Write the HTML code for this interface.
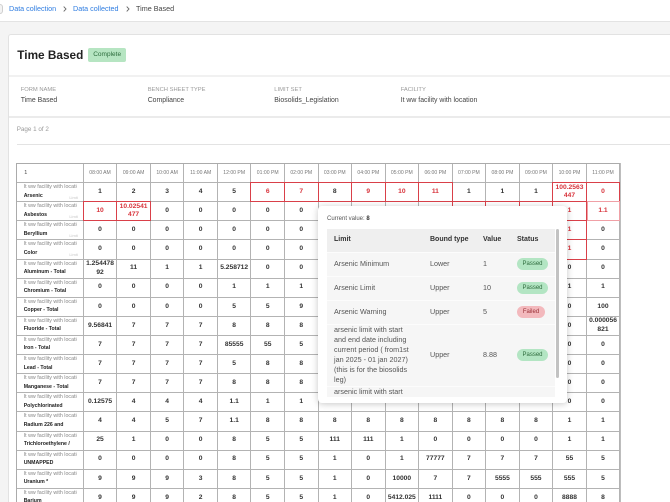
<!DOCTYPE html>
<html><head><meta charset="utf-8">
<style>
*{margin:0;padding:0;box-sizing:border-box}
html,body{width:670px;height:502px;overflow:hidden;background:#f4f4f4;font-family:"Liberation Sans",Arial,sans-serif}
#w{position:relative;width:670px;height:502px;overflow:hidden;background:#f4f4f4}
.top{position:absolute;left:0;top:0;width:670px;height:22px;background:#fff;border-bottom:1px solid #e3e3e3}
.circ{position:absolute;left:0;top:4px;width:3px;height:10px;border:1px solid #cfcfcf;border-left:0;border-radius:0 5px 5px 0;background:#f3f3f3}
.bc{position:absolute;top:3.8px;font-size:7.2px;line-height:9px;white-space:nowrap}
.bl{color:#2f7de1}
.chev{position:absolute;top:5.5px}
.card{position:absolute;left:8px;top:34px;width:662px;height:468px;background:#fff;border:1px solid #e2e2e2;border-right:0;border-bottom:0;border-radius:3px 0 0 0}
.title{position:absolute;left:17.3px;top:48px;font-size:11.8px;line-height:14px;font-weight:bold;color:#222;white-space:nowrap}
.badge{position:absolute;left:88px;top:48.3px;width:38.3px;height:13.7px;line-height:13.7px;text-align:center;background:#b6e5c2;color:#2b6b3b;font-size:6.5px;border-radius:2px}
.sep1{position:absolute;left:9px;top:74.5px;width:661px;height:2px;background:#f1f1f1}
.sep2{position:absolute;left:9px;top:116px;width:661px;height:2px;background:#ebebeb}
.sep3{position:absolute;left:17px;top:143.5px;width:653px;height:1px;background:#e3e3e3}
.lab{position:absolute;top:87.2px;font-size:5.8px;line-height:7px;color:#9a9a9a;white-space:nowrap}
.val{position:absolute;top:95.5px;font-size:6.9px;line-height:9px;color:#444;white-space:nowrap}
.pg{position:absolute;left:16.7px;top:126px;font-size:6.3px;line-height:8px;color:#999}
.gw{position:absolute;left:16.2px;top:163px;width:606px;height:339px;overflow:hidden}
.g{position:absolute;left:0;top:0;display:grid;grid-template-columns:66.6px repeat(16,33.54px);grid-auto-rows:19.12px;border-left:1px solid #ababab;border-top:1px solid #ababab;box-shadow:1px 0 0 #bdbdbd}
.g>span{display:flex;align-items:center;justify-content:center;text-align:center;border-right:1px solid #b3b3b3;border-bottom:1px solid #b3b3b3;font-size:6.7px;font-weight:bold;color:#333;line-height:8.5px;padding:0 2px;word-break:break-all;position:relative;background:#fff}
.g>span.h{font-size:5.1px;font-weight:normal;color:#777}
.g>span.h0{justify-content:flex-start;padding-left:7px;font-size:5.5px;font-weight:normal;color:#444}
.g>span.l{display:block;text-align:left;padding:1px 6px 0 6.5px;overflow:hidden;font-weight:normal}
.l em{display:block;font-style:normal;font-size:5.3px;line-height:6px;color:#888;white-space:nowrap;overflow:hidden}
.l b{display:block;font-size:5.2px;line-height:6px;margin-top:2.5px;color:#222;white-space:nowrap;overflow:hidden}
.l i{position:absolute;right:5px;bottom:1.5px;font-style:normal;font-size:4px;line-height:5px;color:#c6c6c6}
.g>span.r,.g>span.k,.g>span.rp{z-index:2}
.g>span.r,.g>span.rp{color:#d8343c}
.r::after,.k::after,.rp::after{content:"";position:absolute;left:-1px;top:-1px;right:-1px;bottom:-1px;border:1px solid #d94049}
.rp::after{border-color:#f0a0a6;left:0}
.pop{position:absolute;left:318px;top:206px;width:249px;height:197px;background:#fff;border-radius:4px;box-shadow:0 1px 7px rgba(0,0,0,.22);z-index:10}
.cv{position:absolute;left:9px;top:9.3px;font-size:6px;line-height:8px;color:#555;white-space:nowrap}
.cv b{color:#333}
.sc{position:absolute;left:9px;top:23px;width:233px;height:168px;overflow:hidden}
.pt{position:absolute;left:0;top:0;width:228px;border-collapse:collapse;table-layout:fixed;font-size:7.2px;color:#555}
.pt td{padding:0 0 0 7px;vertical-align:middle;background:#f6f6f6;border-top:1px solid #fcfcfc;white-space:nowrap;line-height:10.1px}
.pt tr.ph td{background:#efefef;font-weight:bold;color:#333;font-size:7px;height:23px;border-top:0}
.pt tr.n td{height:24px}
.ok,.ng{display:inline-flex;align-items:center;justify-content:center;height:11.5px;line-height:1;border-radius:6px;font-size:6px;vertical-align:middle}
.ok{width:31px;background:#b3e5c3;color:#2e6b3d}
.ng{width:28px;background:#f3b9bd;color:#9a2f35}
.thumb{position:absolute;left:228.7px;top:0;width:3.6px;height:149px;background:#c2c2c2;border-radius:2px}
</style></head>
<body>
<div id="w">
<div class="top"></div>
<div class="circ"></div>
<div class="bc bl" style="left:9px">Data collection</div>
<svg class="chev" style="left:62.5px" width="4" height="6" viewBox="0 0 4 6"><polyline points="0.7,0.6 3,3 0.7,5.4" fill="none" stroke="#666" stroke-width="0.9"/></svg>
<div class="bc bl" style="left:73px">Data collected</div>
<svg class="chev" style="left:125.5px" width="4" height="6" viewBox="0 0 4 6"><polyline points="0.7,0.6 3,3 0.7,5.4" fill="none" stroke="#666" stroke-width="0.9"/></svg>
<div class="bc" style="left:136px;color:#444">Time Based</div>

<div class="card"></div>
<div class="title">Time Based</div>
<div class="badge">Complete</div>
<div class="sep1"></div>
<div class="lab" style="left:20.7px">FORM NAME</div>
<div class="val" style="left:20.7px">Time Based</div>
<div class="lab" style="left:147.7px">BENCH SHEET TYPE</div>
<div class="val" style="left:147.7px">Compliance</div>
<div class="lab" style="left:274.3px">LIMIT SET</div>
<div class="val" style="left:274.3px">Biosolids_Legislation</div>
<div class="lab" style="left:400.7px">FACILITY</div>
<div class="val" style="left:400.7px">It ww facility with location</div>
<div class="sep2"></div>
<div class="pg">Page 1 of 2</div>
<div class="sep3"></div>

<div class="gw">
<div class="g">
<span class="h0">1</span><span class="h">08:00 AM</span><span class="h">09:00 AM</span><span class="h">10:00 AM</span><span class="h">11:00 AM</span><span class="h">12:00 PM</span><span class="h">01:00 PM</span><span class="h">02:00 PM</span><span class="h">03:00 PM</span><span class="h">04:00 PM</span><span class="h">05:00 PM</span><span class="h">06:00 PM</span><span class="h">07:00 PM</span><span class="h">08:00 PM</span><span class="h">09:00 PM</span><span class="h">10:00 PM</span><span class="h">11:00 PM</span>

<span class="l"><em>It ww facility with location</em><b>Arsenic</b><i>Limit</i></span><span>1</span><span>2</span><span>3</span><span>4</span><span>5</span><span class="r">6</span><span class="r">7</span><span class="k">8</span><span class="r">9</span><span class="r">10</span><span class="r">11</span><span>1</span><span>1</span><span>1</span><span class="r">100.2563447</span><span class="r">0</span>

<span class="l"><em>It ww facility with location</em><b>Asbestos</b><i>Limit</i></span><span class="r">10</span><span class="r">10.02541477</span><span>0</span><span>0</span><span>0</span><span>0</span><span>0</span><span></span><span></span><span></span><span></span><span class="r"></span><span class="r"></span><span class="r"></span><span class="r">1</span><span class="rp">1.1</span>

<span class="l"><em>It ww facility with location</em><b>Beryllium</b><i>Limit</i></span><span>0</span><span>0</span><span>0</span><span>0</span><span>0</span><span>0</span><span>0</span><span></span><span></span><span></span><span></span><span></span><span></span><span></span><span class="r">1</span><span>0</span>

<span class="l"><em>It ww facility with location</em><b>Color</b><i>Limit</i></span><span>0</span><span>0</span><span>0</span><span>0</span><span>0</span><span>0</span><span>0</span><span></span><span></span><span></span><span></span><span></span><span></span><span></span><span class="r">1</span><span>0</span>

<span class="l"><em>It ww facility with location</em><b>Aluminum - Total</b></span><span>1.25447892</span><span>11</span><span>1</span><span>1</span><span>5.258712</span><span>0</span><span>0</span><span></span><span></span><span></span><span></span><span></span><span></span><span></span><span>0</span><span>0</span>

<span class="l"><em>It ww facility with location</em><b>Chromium - Total</b></span><span>0</span><span>0</span><span>0</span><span>0</span><span>1</span><span>1</span><span>1</span><span></span><span></span><span></span><span></span><span></span><span></span><span></span><span>1</span><span>1</span>

<span class="l"><em>It ww facility with location</em><b>Copper - Total</b></span><span>0</span><span>0</span><span>0</span><span>0</span><span>5</span><span>5</span><span>9</span><span></span><span></span><span></span><span></span><span></span><span></span><span></span><span>0</span><span>100</span>

<span class="l"><em>It ww facility with location</em><b>Fluoride - Total</b></span><span>9.56841</span><span>7</span><span>7</span><span>7</span><span>8</span><span>8</span><span>8</span><span></span><span></span><span></span><span></span><span></span><span></span><span></span><span>0</span><span>0.000056821</span>

<span class="l"><em>It ww facility with location</em><b>Iron - Total</b></span><span>7</span><span>7</span><span>7</span><span>7</span><span>85555</span><span>55</span><span>5</span><span></span><span></span><span></span><span></span><span></span><span></span><span></span><span>0</span><span>0</span>

<span class="l"><em>It ww facility with location</em><b>Lead - Total</b></span><span>7</span><span>7</span><span>7</span><span>7</span><span>5</span><span>8</span><span>8</span><span></span><span></span><span></span><span></span><span></span><span></span><span></span><span>0</span><span>0</span>

<span class="l"><em>It ww facility with location</em><b>Manganese - Total</b></span><span>7</span><span>7</span><span>7</span><span>7</span><span>8</span><span>8</span><span>8</span><span></span><span></span><span></span><span></span><span></span><span></span><span></span><span>0</span><span>0</span>

<span class="l"><em>It ww facility with location</em><b>Polychlorinated</b></span><span>0.12575</span><span>4</span><span>4</span><span>4</span><span>1.1</span><span>1</span><span>1</span><span></span><span></span><span></span><span></span><span></span><span></span><span></span><span>0</span><span>0</span>

<span class="l"><em>It ww facility with location</em><b>Radium 226 and</b></span><span>4</span><span>4</span><span>5</span><span>7</span><span>1.1</span><span>8</span><span>8</span><span>8</span><span>8</span><span>8</span><span>8</span><span>8</span><span>8</span><span>8</span><span>1</span><span>1</span>

<span class="l"><em>It ww facility with location</em><b>Trichloroethylene /</b></span><span>25</span><span>1</span><span>0</span><span>0</span><span>8</span><span>5</span><span>5</span><span>111</span><span>111</span><span>1</span><span>0</span><span>0</span><span>0</span><span>0</span><span>1</span><span>1</span>

<span class="l"><em>It ww facility with location</em><b>UNMAPPED</b></span><span>0</span><span>0</span><span>0</span><span>0</span><span>8</span><span>5</span><span>5</span><span>1</span><span>0</span><span>1</span><span>77777</span><span>7</span><span>7</span><span>7</span><span>55</span><span>5</span>

<span class="l"><em>It ww facility with location</em><b>Uranium *</b></span><span>9</span><span>9</span><span>9</span><span>3</span><span>8</span><span>5</span><span>5</span><span>1</span><span>0</span><span>10000</span><span>7</span><span>7</span><span>5555</span><span>555</span><span>555</span><span>5</span>

<span class="l"><em>It ww facility with location</em><b>Barium</b></span><span>9</span><span>9</span><span>9</span><span>2</span><span>8</span><span>5</span><span>5</span><span>1</span><span>0</span><span>5412.025</span><span>1111</span><span>0</span><span>0</span><span>0</span><span>8888</span><span>8</span>
</div>
</div>

<div class="pop">
  <div class="cv">Current value: <b>8</b></div>
  <div class="sc">
    <table class="pt">
      <colgroup><col style="width:96px"><col style="width:53px"><col style="width:34px"><col style="width:45px"></colgroup>
      <tr class="ph"><td>Limit</td><td>Bound type</td><td>Value</td><td>Status</td></tr>
      <tr class="n"><td>Arsenic Minimum</td><td>Lower</td><td>1</td><td><span class="ok">Passed</span></td></tr>
      <tr class="n"><td>Arsenic Limit</td><td>Upper</td><td>10</td><td><span class="ok">Passed</span></td></tr>
      <tr class="n"><td>Arsenic Warning</td><td>Upper</td><td>5</td><td><span class="ng">Failed</span></td></tr>
      <tr><td style="height:62px">arsenic limit with start<br>and end date including<br>current period ( from1st<br>jan 2025 - 01 jan 2027)<br>(this is for the biosolids<br>leg)</td><td>Upper</td><td>8.88</td><td><span class="ok">Passed</span></td></tr>
      <tr><td style="height:32px">arsenic limit with start<br>and end date including<br>current period</td><td>Upper</td><td>9</td><td><span class="ok">Passed</span></td></tr>
    </table>
    <div class="thumb"></div>
  </div>
</div>
</div>
</body></html>
